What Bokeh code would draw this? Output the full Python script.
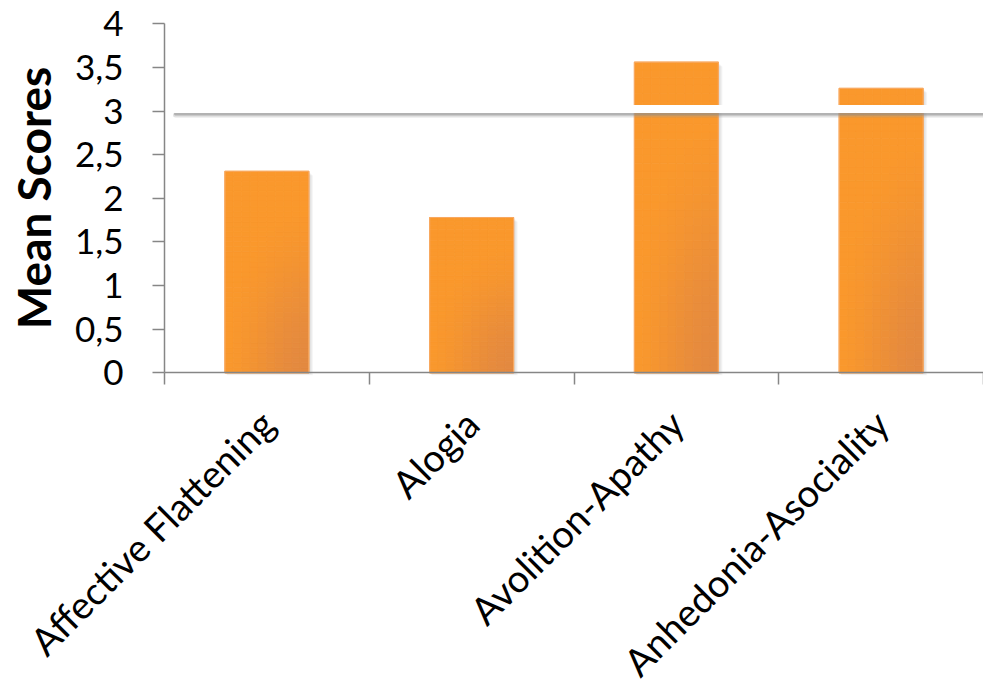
import numpy as np
from bokeh.plotting import figure
from bokeh.models import FixedTicker, Range1d, ColumnDataSource
from bokeh.embed import file_html
from bokeh.resources import INLINE

# Mean scores per negative-symptom domain
CATEGORIES = ["Affective Flattening", "Alogia", "Avolition-Apathy", "Anhedonia-Asociality"]
MEAN_SCORES = [2.31, 1.78, 3.56, 3.26]
CUTOFF = 3.0

Y_TICKS = [0, 0.5, 1, 1.5, 2, 2.5, 3, 3.5, 4]
Y_TICK_LABELS = ["0", "0,5", "1", "1,5", "2", "2,5", "3", "3,5", "4"]

FONT = "Lato"
AXIS_GREY = "#868686"
BRIGHT = np.array([0xFA, 0x98, 0x2C])
DARK = np.array([0xE3, 0x89, 0x40])

W, H = 983, 688
# plotting area inside the canvas (pixels): left edge, top edge, baseline
AREA_L, AREA_T, AREA_B = 164, 23.3, 372.3
n = len(CATEGORIES)
y_max = Y_TICKS[-1]

px_x = n / (W - AREA_L)
px_y = y_max / (AREA_B - AREA_T)

# the frame fills the whole canvas; the axes sit at x=0 and y=0
p = figure(width=W, height=H, output_backend="svg", toolbar_location=None,
           x_range=Range1d(-AREA_L * px_x, n),
           y_range=Range1d(-(H - AREA_B) * px_y, y_max + AREA_T * px_y),
           min_border=0, min_border_left=0, min_border_right=0,
           min_border_top=0, min_border_bottom=0)
p.outline_line_color = None
p.xgrid.visible = False
p.ygrid.visible = False
p.background_fill_color = "white"

centers = [i + 0.5 for i in range(n)]
bar_w = 0.41

# soft drop shadow behind each bar
for k in range(1, 5):
    p.quad(left=[c - bar_w / 2 + k * 0.5 * px_x for c in centers],
           right=[c + bar_w / 2 + k * px_x for c in centers],
           bottom=[-k * 0.6 * px_y] * n,
           top=[v - k * px_y for v in MEAN_SCORES],
           fill_color="#707070", fill_alpha=0.07, line_color=None)

# bars with a radial shading toward the lower-right corner
cols, rows = 10, 40
L, R, B, T, C = [], [], [], [], []
for c, v in zip(centers, MEAN_SCORES):
    x0 = c - bar_w / 2
    for i in range(cols):
        for j in range(rows):
            u = (i + 0.5) / cols
            w = (j + 0.5) / rows
            d = np.sqrt(((1 - u) * 0.9) ** 2 + (w * 1.1) ** 2)
            t = np.clip(d / 0.95, 0, 1)
            t = t * t * (3 - 2 * t)
            col = DARK * (1 - t) + BRIGHT * t
            L.append(x0 + i * bar_w / cols)
            R.append(x0 + (i + 1) * bar_w / cols)
            B.append(j * v / rows)
            T.append((j + 1) * v / rows)
            C.append("#%02x%02x%02x" % tuple(int(round(x)) for x in col))
src = ColumnDataSource(dict(left=L, right=R, bottom=B, top=T, color=C))
p.quad(left="left", right="right", bottom="bottom", top="top", source=src,
       fill_color="color", line_color="color", line_width=0.8)

# light rim around each bar
p.vbar(x=centers, top=MEAN_SCORES, width=bar_w, bottom=0,
       fill_color=None, line_color="#F8A860", line_width=1.2)

# cutoff line with a drop shadow
x_start = 11 * px_x
p.line(x=[x_start, n], y=[CUTOFF - 4 * px_y] * 2, line_color="#9A9A9A",
       line_width=5, line_alpha=0.3, line_cap="round")
p.line(x=[x_start, n], y=[CUTOFF - 3 * px_y] * 2, line_color="#8C8C8C",
       line_width=3, line_alpha=0.55, line_cap="round")
p.line(x=[x_start, n], y=[CUTOFF + 2 * px_y] * 2, line_color="white",
       line_width=8, line_cap="round")

# x axis: ticks at category boundaries, slanted names centred on the bars
xa = p.xaxis[0]
xa.fixed_location = 0
xa.bounds = (0, n)
xa.ticker = FixedTicker(ticks=centers, minor_ticks=list(range(n + 1)))
xa.major_label_overrides = {c: name for c, name in zip(centers, CATEGORIES)}
xa.major_tick_line_color = None
xa.major_tick_out = 0
xa.major_tick_in = 0
xa.minor_tick_out = 12
xa.minor_tick_in = 0
xa.minor_tick_line_color = AXIS_GREY
xa.minor_tick_line_width = 1.5
xa.axis_line_color = AXIS_GREY
xa.axis_line_width = 1.5
xa.major_label_orientation = np.pi / 4
xa.major_label_standoff = 32
xa.major_label_text_font = FONT
xa.major_label_text_font_size = "38px"
xa.major_label_text_color = "black"

ya = p.yaxis[0]
ya.fixed_location = 0
ya.bounds = (0, y_max)
ya.ticker = FixedTicker(ticks=Y_TICKS)
ya.major_label_overrides = {t: s for t, s in zip(Y_TICKS, Y_TICK_LABELS)}
ya.minor_tick_line_color = None
ya.major_tick_out = 12
ya.major_tick_in = 0
ya.major_tick_line_color = AXIS_GREY
ya.major_tick_line_width = 1.5
ya.axis_line_color = AXIS_GREY
ya.axis_line_width = 1.5
ya.major_label_standoff = 29
ya.major_label_text_font = FONT
ya.major_label_text_font_size = "35px"
ya.major_label_text_color = "black"
ya.axis_label = "Mean Scores"
ya.axis_label_text_font = FONT
ya.axis_label_text_font_style = "bold"
ya.axis_label_text_font_size = "46px"
ya.axis_label_text_color = "black"
ya.axis_label_standoff = 11

open("out.html", "w").write(file_html(p, INLINE))
